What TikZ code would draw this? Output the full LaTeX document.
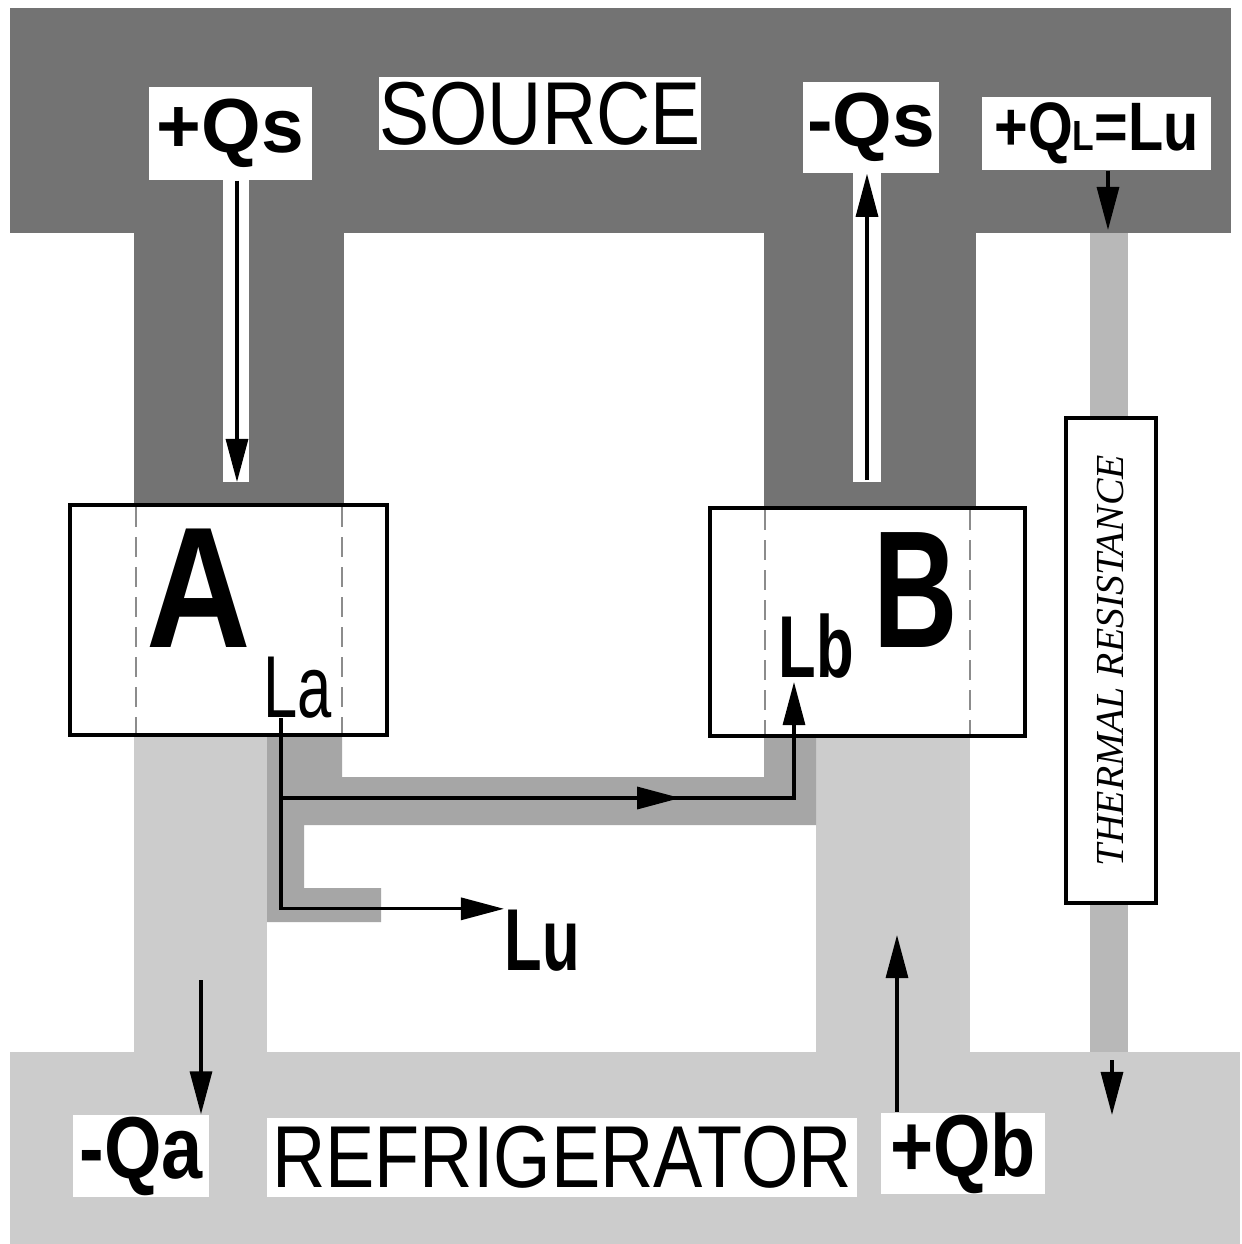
\documentclass[tikz,border=0pt]{standalone}
\usepackage{fontspec}
\setmainfont{Liberation Sans}
\newfontfamily\condfont[FakeStretch=0.84]{Liberation Sans}
\newfontfamily\narrowfont[FakeStretch=0.7]{Liberation Sans}
\newfontfamily\resfont{Liberation Serif}
\usetikzlibrary{arrows.meta,decorations.markings}

\tikzset{
    % Shaded zones (halftone tones of the original)
    darkzone/.style={fill=black!55},
    pipezone/.style={fill=black!35},
    lightzone/.style={fill=black!20},
    stripezone/.style={fill=black!28},
    halo/.style={fill=white},
    % Boxes and labels
    engine/.style={draw, fill=white, line width=1pt, inner sep=0pt},
    labelbox/.style={fill=white, inner sep=0pt, align=center},
    guide/.style={black!45, line width=0.4pt, dash pattern=on 2mm off 1mm},
    % Flow styles
    flow/.style={-{Triangle[length=4.3mm,width=2.2mm]}, line width=0.9pt},
    midtip/.style={postaction={decorate}, decoration={markings,
        mark=at position 3.99cm with {\arrow{Triangle[length=4.3mm,width=2.2mm]}}}}
}

\begin{document}
\begin{tikzpicture}[
    x=0.01cm, y=-0.01cm,
    bigletter/.style={inner sep=0pt, font=\condfont\bfseries\fontsize{49}{50}\selectfont},
    workname/.style={inner sep=0pt, font=\narrowfont\fontsize{25}{26}\selectfont},
    heatname/.style={labelbox, font=\bfseries\fontsize{21.8}{22}\selectfont},
    bathname/.style={labelbox, font=\condfont\fontsize{25.4}{26}\selectfont}
]
    \useasboundingbox[fill=white] (0,0) rectangle (1242,1244);

    % Source and refrigerator reservoirs
    \fill[darkzone] (10,8) rectangle (1231,233);
    \fill[lightzone] (10,1052) rectangle (1240,1244);

    % Heat columns
    \fill[darkzone] (134,233) rectangle (344,505);
    \fill[darkzone] (764,233) rectangle (976,508);
    \fill[lightzone] (134,735) rectangle (267,1052);
    \fill[lightzone] (816,736) rectangle (970,1052);

    % Work pipe from A to B and out
    \fill[pipezone] (267,735) -- (342,735) -- (342,777) -- (764,777) -- (764,736)
        -- (816,736) -- (816,825) -- (304,825) -- (304,888) -- (381,888)
        -- (381,922) -- (267,922) -- cycle;

    % Thermal path beside the engines
    \fill[stripezone] (1090,233) rectangle (1128,418);
    \fill[stripezone] (1090,903) rectangle (1128,1052);

    % White channels round the source arrows
    \fill[halo] (223,180) rectangle (249,482);
    \fill[halo] (853,173) rectangle (881,482);

    % Engines
    \node[engine, minimum width=3.17cm, minimum height=2.3cm] (boxA) at (228.5,620) {};
    \node[engine, minimum width=3.15cm, minimum height=2.28cm] (boxB) at (867.5,622) {};
    \draw[guide] (136,507) -- (136,733);
    \draw[guide] (342,507) -- (342,733);
    \draw[guide] (765,510) -- (765,734);
    \draw[guide] (970,510) -- (970,734);

    \node[bigletter, anchor=base] (letA) at (198.5,647) {A};
    \node[workname, anchor=base west] (la) at (263,717) {La};
    \node[bigletter, anchor=base, font=\narrowfont\bfseries\fontsize{47.5}{48}\selectfont] (letB) at (915.5,647) {B};
    \node[workname, anchor=base west, font=\narrowfont\bfseries\fontsize{25}{26}\selectfont] (lb) at (778,677) {Lb};
    \node[workname, anchor=base west, font=\narrowfont\bfseries\fontsize{25}{26}\selectfont] (lu) at (504,970) {Lu};

    % Thermal resistance
    \node[engine, rotate=90, minimum width=4.85cm, minimum height=0.9cm,
        font=\resfont\itshape\fontsize{11.3}{12}\selectfont] (res) at (1111,660.5) {THERMAL RESISTANCE};

    % Labels
    \node[bathname, minimum width=3.22cm, minimum height=0.73cm] (source) at (540,113.5) {SOURCE};
    \node[heatname, minimum width=1.63cm, minimum height=0.93cm] (qsin) at (230.5,133.5) {+Qs};
    \node[heatname, minimum width=1.36cm, minimum height=0.91cm] (qsout) at (871,127.5) {-Qs};
    \node[heatname, minimum width=2.29cm, minimum height=0.73cm,
        font=\condfont\bfseries\fontsize{19.5}{20}\selectfont] (ql) at (1096.5,133.5) {+Q{\fontsize{12}{12}\selectfont L}=Lu};
    \node[heatname, minimum width=1.36cm, minimum height=0.82cm,
        font=\condfont\bfseries\fontsize{25}{26}\selectfont] (qa) at (141,1156) {-Qa};
    \node[bathname, minimum width=5.9cm, minimum height=0.79cm,
        font=\condfont\fontsize{25}{26}\selectfont] (fridge) at (562,1157.5) {REFRIGERATOR};
    \node[heatname, minimum width=1.64cm, minimum height=0.8cm,
        font=\condfont\bfseries\fontsize{25}{26}\selectfont] (qb) at (963,1153) {+Qb};

    % Heat arrows
    \coordinate (qsEnd) at (237,482);
    \coordinate (qsoStart) at (867,480);
    \coordinate (qlEnd) at (1108,230);
    \coordinate (qaStart) at (201,980);
    \coordinate (qbEnd) at (897,935);
    \coordinate (resStart) at (1112,1060);
    \coordinate (resEnd) at (1112,1115);
    \draw[flow] (qsEnd |- qsin.south) -- (qsEnd);
    \draw[flow] (qsoStart) -- (qsoStart |- qsout.south);
    \draw[flow] (qlEnd |- ql.south) -- (qlEnd);
    \draw[flow] (qaStart) -- (qaStart |- qa.north);
    \draw[flow] (qbEnd |- qb.north) -- (qbEnd);
    \draw[flow] (resStart) -- (resEnd);

    % Work arrows
    \coordinate (laFoot) at (281,718);
    \coordinate (split) at (281,798);
    \coordinate (lbFoot) at (794,682);
    \draw[flow] (laFoot) |- (lu.north west);
    \draw[flow, midtip] (split) -| (lbFoot);

\end{tikzpicture}
\end{document}
